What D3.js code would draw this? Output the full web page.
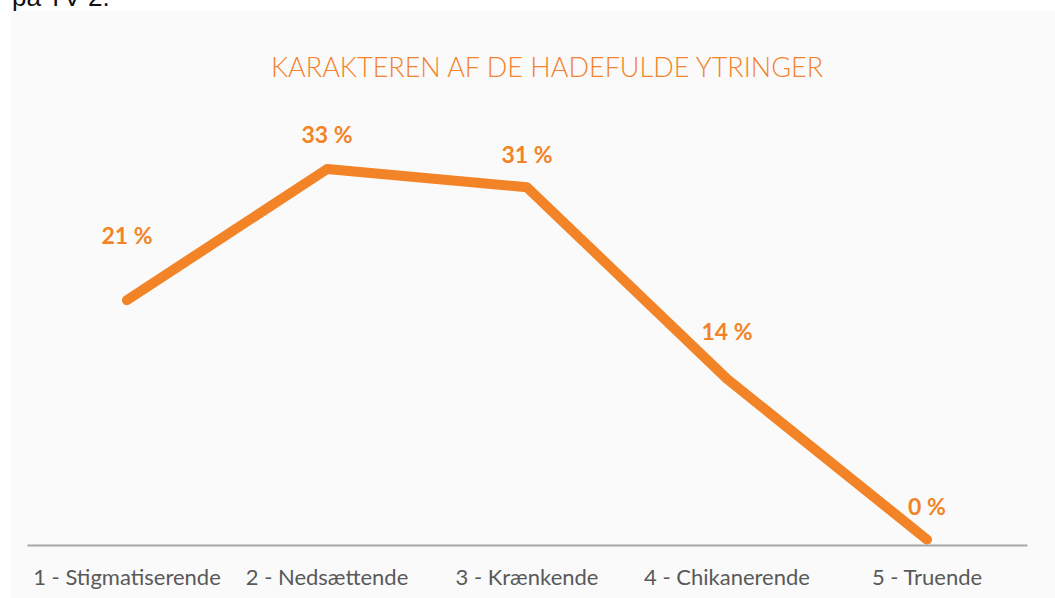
<!DOCTYPE html>
<html>
<head>
<meta charset="utf-8">
<script src="https://cdn.jsdelivr.net/npm/d3@7"></script>
<style>
html,body{margin:0;padding:0;background:#fff;}
svg{display:block;}
</style>
</head>
<body>
<svg id="chart" width="1055" height="598"></svg>
<script>
// ---- data ----
const categories = ["1 - Stigmatiserende", "2 - Nedsættende", "3 - Krænkende", "4 - Chikanerende", "5 - Truende"];
const values = [21.3, 32.8, 31.2, 14.4, 0.3];
const valueLabels = ["21 %", "33 %", "31 %", "14 %", "0 %"];
const title = "KARAKTEREN AF DE HADEFULDE YTRINGER";
const caption = "på TV 2.";

// ---- layout ----
const W = 1055, H = 598;
const plot = {left: 27, right: 1027, top: 144, bottom: 545};
const labelLift = [56, 26, 24, 39, 25];
const orange = "#f28326";
const svg = d3.select("#chart");

svg.append("rect").attr("x", 10).attr("y", 11).attr("width", W - 10).attr("height", H - 11).attr("fill", "#fafafa");

svg.append("text").attr("x", 12).attr("y", 6)
  .attr("font-family", "Liberation Sans, Arial, sans-serif").attr("font-size", 26)
  .attr("fill", "#111").text(caption);

svg.append("text").attr("x", 547).attr("y", 77).attr("text-anchor", "middle")
  .attr("font-family", "Lato, sans-serif").attr("font-weight", 300).attr("font-size", 27)
  .attr("fill", "#f4822c").text(title);

const x = d3.scaleBand().domain(categories).range([plot.left, plot.right]);
const y = d3.scaleLinear().domain([0, 35]).range([plot.bottom - 2, plot.top]);

// axis
const xAxis = d3.axisBottom(x).tickSize(0).tickPadding(0);
const gx = svg.append("g").attr("transform", `translate(0,${plot.bottom})`).call(xAxis);
gx.select(".domain").attr("stroke", "#a6a6a6").attr("stroke-width", 2);
gx.selectAll(".tick text")
  .attr("font-family", "Lato, sans-serif").attr("font-size", 22).attr("fill", "#595959")
  .attr("dy", null).attr("y", 40);

const pts = categories.map((c, i) => [x(c) + x.bandwidth() / 2, y(values[i])]);
svg.append("path").datum(pts)
  .attr("d", d3.line())
  .attr("fill", "none").attr("stroke", orange).attr("stroke-width", 10)
  .attr("stroke-linecap", "round").attr("stroke-linejoin", "round");

svg.append("g").selectAll("text").data(categories).join("text")
  .attr("x", (c) => x(c) + x.bandwidth() / 2)
  .attr("y", (c, i) => y(values[i]) - labelLift[i])
  .attr("text-anchor", "middle")
  .attr("font-family", "Lato, sans-serif").attr("font-weight", 700).attr("font-size", 23)
  .attr("fill", orange)
  .text((c, i) => valueLabels[i]);
</script>
</body>
</html>
